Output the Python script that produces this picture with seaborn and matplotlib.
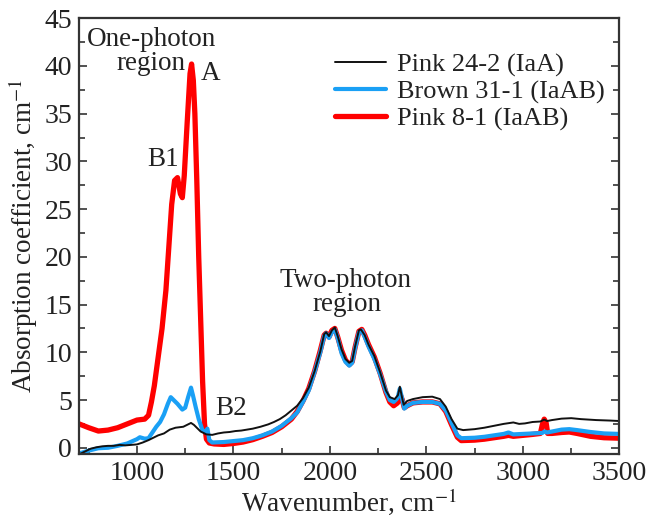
import matplotlib
matplotlib.use("Agg")
import matplotlib.pyplot as plt
from matplotlib.ticker import MultipleLocator
from matplotlib.lines import Line2D
import seaborn as sns
import pandas as pd

# ---- data ----
red_wn = [700, 750, 800, 850, 900, 950, 1000, 1040, 1060, 1075, 1090, 1110, 1130, 1150, 1165, 1180, 1195,
          1210, 1225, 1235, 1245, 1260, 1275, 1283, 1292, 1300, 1310, 1320, 1330, 1340, 1350, 1360, 1375,
          1400, 1450, 1500, 1550, 1600, 1650, 1700, 1750, 1800, 1830, 1860, 1890, 1920, 1950, 1970, 1980,
          1995, 2010, 2025, 2040, 2060, 2080, 2100, 2115, 2130, 2150, 2165, 2180, 2200, 2230, 2260, 2290,
          2310, 2330, 2350, 2365, 2375, 2385, 2400, 2430, 2480, 2530, 2570, 2600, 2630, 2660, 2680, 2750,
          2800, 2850, 2900, 2925, 2950, 3000, 3050, 3090, 3100, 3110, 3120, 3128, 3150, 3200, 3240, 3280,
          3350, 3420, 3500]
red_val = [2.5, 2.1, 1.75, 1.85, 2.1, 2.5, 2.9, 3.0, 3.4, 4.8, 6.5, 9.5, 12.5, 16.5, 21, 25.5, 28.0,
           28.3, 26.6, 26.2, 28.5, 34, 39.2, 40.2, 38.5, 35, 28, 20, 13.5, 7, 2.5, 0.9, 0.5,
           0.4, 0.35, 0.45, 0.6, 0.85, 1.2, 1.6, 2.2, 3.0, 3.8, 4.9, 6.2, 8.0, 10.2, 11.8, 12.0,
           11.6, 12.3, 12.5, 11.6, 10.2, 9.2, 8.7, 9.0, 10.5, 12.2, 12.4, 11.8, 10.8, 9.5, 7.8, 5.8,
           4.8, 4.4, 4.7, 5.5, 5.0, 4.2, 4.4, 4.7, 4.8, 4.8, 4.6, 3.8, 2.4, 1.1, 0.75, 0.8,
           0.9, 1.05, 1.2, 1.3, 1.2, 1.3, 1.4, 1.5, 2.4, 3.0, 2.6, 1.5, 1.5, 1.6, 1.65, 1.5,
           1.2, 1.05, 1.0]

blue_wn = [700, 750, 800, 850, 900, 950, 1000, 1015, 1040, 1060, 1080, 1100, 1120, 1140, 1160, 1175, 1190,
           1210, 1235, 1250, 1265, 1280, 1290, 1305, 1320, 1340, 1355, 1365, 1375, 1390, 1450, 1500, 1550,
           1600, 1650, 1700, 1750, 1800, 1830, 1860, 1890, 1920, 1950, 1970, 1980, 1995, 2010, 2025, 2040,
           2060, 2080, 2100, 2115, 2130, 2150, 2165, 2180, 2200, 2230, 2260, 2290, 2310, 2330, 2350, 2362,
           2372, 2385, 2400, 2430, 2480, 2530, 2570, 2600, 2630, 2660, 2680, 2750, 2800, 2850, 2900, 2925,
           2950, 3000, 3050, 3100, 3112, 3125, 3150, 3200, 3240, 3280, 3350, 3420, 3500]
blue_val = [-0.6, -0.3, -0.05, 0.0, 0.2, 0.45, 0.9, 1.1, 0.95, 1.0, 1.6, 2.2, 2.7, 3.5, 4.6, 5.3, 5.0,
            4.6, 4.0, 4.2, 5.3, 6.3, 5.5, 4.2, 3.0, 1.8, 1.7, 2.0, 0.8, 0.55, 0.6, 0.7, 0.8,
            1.0, 1.3, 1.7, 2.3, 3.1, 3.7, 4.8, 6.0, 7.9, 10.0, 11.7, 12.0, 11.5, 12.1, 12.4, 11.5,
            9.9, 9.0, 8.6, 8.9, 10.4, 12.1, 12.3, 11.6, 10.6, 9.3, 7.7, 5.9, 5.0, 4.8, 5.2, 6.2,
            5.3, 4.1, 4.4, 4.7, 4.8, 4.8, 4.6, 3.9, 2.6, 1.3, 1.0, 1.05, 1.15, 1.3, 1.45, 1.6,
            1.4, 1.45, 1.5, 1.55, 1.7, 1.6, 1.7, 1.9, 1.95, 1.85, 1.65, 1.5, 1.45]

black_wn = [700, 730, 760, 790, 820, 850, 880, 910, 940, 970, 1000, 1030, 1060, 1090, 1110, 1140, 1170,
            1200, 1220, 1240, 1260, 1280, 1295, 1310, 1330, 1360, 1390, 1420, 1450, 1480, 1510, 1540, 1570,
            1600, 1640, 1680, 1710, 1740, 1770, 1800, 1830, 1860, 1890, 1920, 1950, 1970, 1980, 1995, 2010,
            2025, 2040, 2060, 2080, 2100, 2115, 2130, 2150, 2160, 2180, 2200, 2230, 2260, 2290, 2310, 2335,
            2352, 2362, 2372, 2382, 2400, 2430, 2480, 2530, 2570, 2600, 2630, 2660, 2690, 2750, 2800, 2850,
            2900, 2950, 2980, 3010, 3050, 3090, 3110, 3125, 3150, 3200, 3250, 3300, 3380, 3450, 3500]
black_val = [-0.7, -0.4, -0.1, 0.05, 0.15, 0.2, 0.2, 0.3, 0.25, 0.3, 0.35, 0.55, 0.8, 1.1, 1.3, 1.5, 1.9,
             2.1, 2.15, 2.2, 2.4, 2.6, 2.4, 2.1, 1.7, 1.4, 1.35, 1.5, 1.6, 1.65, 1.75, 1.8, 1.9,
             2.0, 2.2, 2.45, 2.7, 3.0, 3.4, 3.9, 4.4, 5.2, 6.3, 8.0, 10.1, 11.9, 12.1, 11.7, 12.3,
             12.6, 11.7, 10.3, 9.3, 8.9, 9.1, 10.6, 12.3, 12.4, 11.8, 10.8, 9.6, 7.9, 6.0, 5.3, 5.1,
             5.5, 6.4, 5.4, 4.5, 4.9, 5.1, 5.3, 5.35, 5.1, 4.3, 3.0, 2.0, 1.85, 1.95, 2.1, 2.3,
             2.5, 2.65, 2.5, 2.55, 2.7, 2.75, 2.95, 2.8, 2.9, 3.05, 3.1, 3.0, 2.9, 2.85, 2.8]

labels = ["Pink 24-2 (IaA)", "Brown 31-1 (IaAB)", "Pink 8-1 (IaAB)"]
colors = ["#111111", "#1aa0f5", "#ff0000"]
widths = [1.4, 3.0, 3.8]

# ---- style ----
sns.set_theme(style="white")
plt.rcParams["font.family"] = ["Liberation Serif", "DejaVu Serif"]
plt.rcParams["mathtext.fontset"] = "stix"
plt.rcParams["text.color"] = "#222222"
FS_TICK = 20
FS_LAB = 19.5
FS_ANN = 19.5
FS_LEG = 19

fig = plt.figure(figsize=(6.48, 5.2), dpi=100)
ax = fig.add_axes([0.122, 0.127, 0.834, 0.838])

dfs = [pd.DataFrame({"wn": black_wn, "val": black_val}),
       pd.DataFrame({"wn": blue_wn, "val": blue_val}),
       pd.DataFrame({"wn": red_wn, "val": red_val})]

for i in [2, 1, 0]:
    sns.lineplot(data=dfs[i], x="wn", y="val", ax=ax, color=colors[i], lw=widths[i],
                 sort=False, legend=False)

ax.set_xlim(700, 3500)
ax.set_ylim(-0.65, 45)
ax.xaxis.set_major_locator(MultipleLocator(500))
ax.xaxis.set_minor_locator(MultipleLocator(250))
ax.yaxis.set_major_locator(MultipleLocator(5))
ax.yaxis.set_minor_locator(MultipleLocator(2.5))
ax.tick_params(which="both", direction="in", left=True, bottom=True, right=True, top=False,
               color="#333333", width=1.2, labelsize=FS_TICK, labelcolor="#222222")
ax.tick_params(which="major", length=6)
ax.tick_params(which="minor", length=4)
ax.tick_params(axis="y", which="both", right=True, labelright=False, pad=5)
ax.tick_params(axis="x", which="both", pad=5)
for s in ax.spines.values():
    s.set_color("#333333")
    s.set_linewidth(1.6)

ax.set_xlabel("Wavenumber, cm$^{-1}$", fontsize=FS_LAB, color="#222222", labelpad=0)
ax.set_ylabel("Absorption coefficient, cm$^{-1}$", fontsize=FS_LAB, color="#222222", labelpad=3)

handles = [Line2D([], [], color=colors[i], lw=widths[i]) for i in range(3)]
ax.legend(handles, labels, loc="upper left", bbox_to_anchor=(0.517, 0.898),
          bbox_transform=fig.transFigure, frameon=False,
          fontsize=FS_LEG, handlelength=1.95, handletextpad=0.4, labelspacing=0.12,
          borderaxespad=0, borderpad=0)

ax.text(1074, 42.1, "One-photon", ha="center", va="baseline", fontsize=FS_ANN)
ax.text(1074, 39.6, "region", ha="center", va="baseline", fontsize=FS_ANN)
ax.text(1383, 39.2, "A", ha="center", va="center", fontsize=FS_ANN)
ax.text(1137, 30.2, "B1", ha="center", va="center", fontsize=FS_ANN)
ax.text(1487, 4.1, "B2", ha="center", va="center", fontsize=FS_ANN)
ax.text(2082, 16.8, "Two-photon", ha="center", va="baseline", fontsize=FS_ANN)
ax.text(2086, 14.3, "region", ha="center", va="baseline", fontsize=FS_ANN)

fig.savefig("out.png", dpi=100)
